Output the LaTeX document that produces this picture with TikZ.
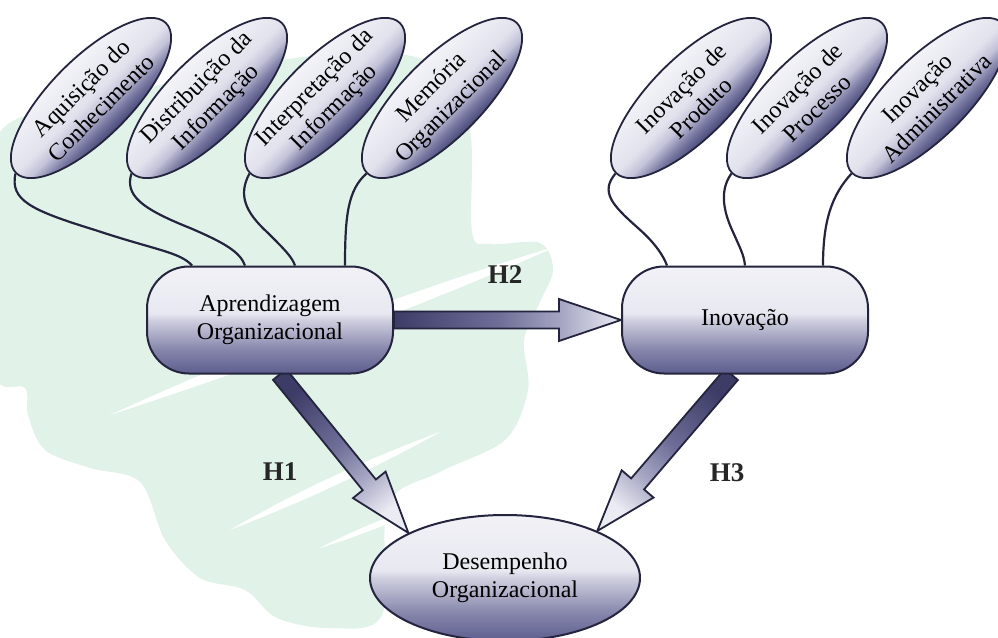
\documentclass[tikz,border=0pt]{standalone}
\usepackage{fontspec}
\setmainfont{Liberation Serif}
\usetikzlibrary{shapes.geometric,calc}
\definecolor{edgecol}{RGB}{36,36,62}
\definecolor{bggreen}{RGB}{225,243,233}
\definecolor{bxA}{RGB}{94,94,142}
\definecolor{bxB}{RGB}{133,133,171}
\definecolor{bxC}{RGB}{207,207,224}
\definecolor{bxD}{RGB}{232,232,241}
\definecolor{bxE}{RGB}{241,241,246}
\definecolor{elA}{RGB}{72,72,120}
\definecolor{elB}{RGB}{120,120,162}
\definecolor{elC}{RGB}{196,196,218}
\definecolor{elD}{RGB}{226,226,237}
\definecolor{elE}{RGB}{243,243,248}
\definecolor{arA}{RGB}{60,60,102}
\definecolor{arB}{RGB}{110,110,152}
\definecolor{arC}{RGB}{167,167,196}
\definecolor{arD}{RGB}{235,235,243}
\pgfdeclareverticalshading{boxshade}{100bp}{color(0bp)=(bxA); color(25bp)=(bxA); color(36bp)=(bxB); color(50bp)=(bxC); color(53bp)=(bxD); color(75bp)=(bxE); color(100bp)=(bxE)}
\pgfdeclareverticalshading{ellshade}{100bp}{color(0bp)=(elA); color(25bp)=(elA); color(33bp)=(elB); color(42bp)=(elC); color(50bp)=(elD); color(75bp)=(elE); color(100bp)=(elE)}
\pgfdeclareverticalshading{arrshade}{100bp}{color(0bp)=(arA); color(25bp)=(arA); color(48bp)=(arB); color(62bp)=(arC); color(75bp)=(arD); color(100bp)=(arD)}
\pgfdeclarelayer{bg}
\pgfdeclarelayer{arr}
\pgfsetlayers{bg,arr,main}
\newcommand\fatarrow[4]{%
  \coordinate (#1-t) at (#2);
  \coordinate (#1-p) at (#3);
  \coordinate (#1-h) at ($(#1-p)!62pt!(#1-t)$);
  \path[arrowbody, shading angle=#4]
    ($(#1-t)!8.5pt!90:(#1-p)$) -- ($(#1-h)!8.5pt!90:(#1-p)$) --
    ($(#1-h)!21pt!90:(#1-p)$) -- (#1-p) --
    ($(#1-h)!21pt!-90:(#1-p)$) -- ($(#1-h)!8.5pt!-90:(#1-p)$) --
    ($(#1-t)!8.5pt!-90:(#1-p)$) -- cycle;}
\newcommand\leafnode[4]{%
  \shade[shading=ellshade, transform canvas={shift={(#2,#3)}, rotate=45}]
    (0,0) ellipse [x radius=106pt, y radius=40pt];
  \node[leaf] (#1) at (#2,#3) {#4};}
\begin{document}
\begin{tikzpicture}[x=1pt,y=-1pt,
  boxnode/.style={rectangle, rounded corners=42pt, draw=edgecol, line width=2pt,
    shade, shading=boxshade, minimum width=246pt, minimum height=107pt, inner sep=0pt,
    align=center, font=\fontsize{24}{28}\selectfont},
  leaf/.style={ellipse, rotate=45, draw=edgecol, line width=1.8pt,
    minimum width=212pt, minimum height=80pt,
    inner xsep=-30pt, inner ysep=0pt, align=center, font=\fontsize{24}{28}\selectfont},
  outnode/.style={ellipse, draw=edgecol, line width=2pt, shade, shading=boxshade,
    minimum width=270pt, minimum height=126pt, inner sep=0pt, align=center,
    font=\fontsize{24}{28}\selectfont},
  arrowbody/.style={draw=edgecol, line width=1.8pt, line join=miter, shade, shading=arrshade},
  link/.style={draw=edgecol, line width=2.2pt},
  hlabel/.style={font=\bfseries\fontsize{27}{30}\selectfont, text=black!85}]
\useasboundingbox (0,0) rectangle (998,637);

% background swoosh
\begin{pgfonlayer}{bg}
\fill[bggreen] plot[smooth cycle, tension=0.55] coordinates {
 (-5,250) (0,132) (100,100) (250,65) (370,52) (440,68) (470,130) (472,232)
 (490,244) (540,243) (553,270) (540,302) (524,340) (528,390) (505,440)
 (440,472) (388,505) (382,615) (330,628) (277,618) (245,590) (200,578)
 (165,540) (140,482) (90,468) (45,450) (28,415) (25,388) (-5,375)};
\fill[white] (110,415) .. controls (256,348) and (406,292) .. (560,245)
  .. controls (413,310) and (263,365) .. cycle;
\fill[white] (230,530) .. controls (297,491) and (367,459) .. (440,432)
  .. controls (372,470) and (302,502) .. cycle;
\fill[white] (320,548) .. controls (358,528) and (398,512) .. (440,500)
  .. controls (402,519) and (362,535) .. cycle;
\end{pgfonlayer}

% main nodes
\node[boxnode] (ao) at (270,320) {Aprendizagem\\Organizacional};
\node[boxnode] (in) at (745,320) {Inovação};
\node[outnode] (des) at (505,578) {Desempenho\\Organizacional};

% leaf ellipses
\leafnode{e1}{91}{98}{Aquisição do\\Conhecimento}
\leafnode{e2}{207}{98}{Distribuição da\\Informação}
\leafnode{e3}{325}{98}{Interpretação da\\Informação}
\leafnode{e4}{442}{98}{Memória\\Organizacional}
\leafnode{e5}{691}{98}{Inovação de\\Produto}
\leafnode{e6}{807}{98}{Inovação de\\Processo}
\leafnode{e7}{927}{98}{Inovação\\Administrativa}

% wavy links
\draw[link] (e1.west) .. controls (10,200) and (30,210) .. (95,230)
  .. controls (155,250) and (180,252) .. ($(ao.north)+(-78,0)$);
\draw[link] (e2.west) .. controls (125,195) and (140,208) .. (190,228)
  .. controls (225,243) and (240,252) .. ($(ao.north)+(-25,0)$);
\draw[link] (e3.west) .. controls (238,195) and (245,212) .. (268,233)
  .. controls (285,250) and (292,257) .. ($(ao.north)+(25,0)$);
\draw[link] (e4.west) .. controls (348,190) and (345,215) .. ($(ao.north)+(75,0)$);
\draw[link] (e5.west) .. controls (600,192) and (612,205) .. (638,228)
  .. controls (655,243) and (663,255) .. ($(in.north)+(-78,0)$);
\draw[link] (e6.west) .. controls (718,192) and (725,215) .. (733,232)
  .. controls (740,248) and (744,255) .. (in.north);
\draw[link] (e7.west) .. controls (832,195) and (823,220) .. ($(in.north)+(78,0)$);

% hypothesis arrows
\begin{pgfonlayer}{arr}
\fatarrow{hh2}{ao.east}{in.west}{-90}
\fatarrow{hh1}{ao.-80}{des.155}{-140}
\fatarrow{hh3}{in.-104}{des.27}{139}
\end{pgfonlayer}

\node[hlabel] (h2) at (505,275) {H2};
\node[hlabel] (h1) at (280,472) {H1};
\node[hlabel] (h3) at (727,473) {H3};
\end{tikzpicture}
\end{document}
